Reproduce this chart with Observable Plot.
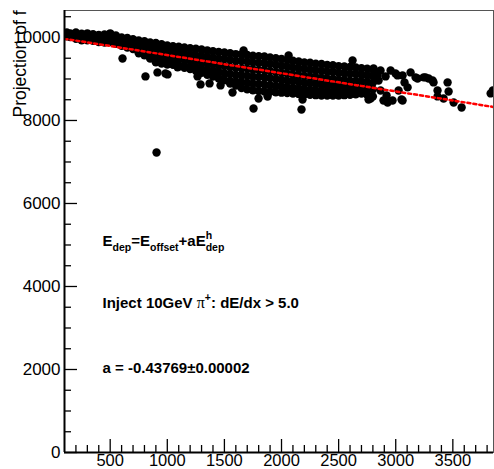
<!DOCTYPE html>
<html><head><meta charset="utf-8">
<script src="https://cdn.jsdelivr.net/npm/d3@7"></script>
<script src="https://cdn.jsdelivr.net/npm/@observablehq/plot@0.6"></script>
<style>body{margin:0;background:#fff} svg{display:block}</style>
</head><body><div id="chart"></div>
<script>
// ---- axes ----
const xDomain = [100, 3856];
const yDomain = [0, 10650];
const xMajor = [500, 1000, 1500, 2000, 2500, 3000, 3500];
const yMajor = [0, 2000, 4000, 6000, 8000, 10000];
const xMinor = d3.range(200, 3856, 100).filter(v => v % 500 !== 0);
const yMinor = d3.range(500, 10650, 500).filter(v => v % 2000 !== 0);
const yTitle = "Projection of f";

// ---- dense band of points: x column -> y values ----
const bandX = [120,150,200,250,300,350,400,450,500,550,600,650,700,750,800,850,900,950,1000,1050,1100,1150,1200,1250,1300,1350,1400,1450,1500,1550,1600,1650,1700,1750,1800,1850,1900,1950,2000,2050,2100,2150,2200,2250,2300,2350,2400,2450,2500,2550,2600,2650,2700,2750,2800];
const bandY = [
 [10120,10030],
 [10100,10010],
 [10120,10040,9970],
 [10090,9990,9930],
 [10100,10010,9930],
 [10080,9990,9920],
 [10060,9970,9890],
 [10070,9960,9880],
 [10100,10000,9890],
 [10050,9950,9850],
 [10000,9900,9800],
 [9990,9880,9760],
 [9960,9840,9720],
 [9930,9800,9680,9620],
 [9910,9780,9650,9570],
 [9880,9760,9620,9490],
 [9870,9730,9590,9450,9400],
 [9840,9700,9560,9420,9370],
 [9810,9670,9530,9390,9350],
 [9790,9650,9510,9370,9340],
 [9780,9630,9480,9330,9300],
 [9760,9610,9460,9310,9270],
 [9740,9590,9440,9290,9240],
 [9730,9570,9420,9270,9200],
 [9710,9560,9400,9250,9150],
 [9690,9530,9380,9220,9100],
 [9670,9510,9350,9190,9060],
 [9650,9490,9330,9170,9010],
 [9640,9480,9310,9140,8970],
 [9620,9460,9290,9120,8950,8890],
 [9600,9440,9270,9100,8940,8840],
 [9590,9430,9260,9090,8920,8780],
 [9580,9420,9250,9080,8910,8750],
 [9560,9400,9230,9060,8890,8730],
 [9550,9390,9220,9050,8880,8710],
 [9540,9380,9210,9040,8870,8700],
 [9520,9360,9190,9020,8850,8690],
 [9500,9340,9170,9000,8830,8680],
 [9480,9320,9150,8980,8820,8670],
 [9460,9300,9130,8960,8800,8660],
 [9440,9280,9110,8950,8790,8650],
 [9420,9260,9090,8930,8770,8640],
 [9400,9240,9070,8910,8760,8630],
 [9390,9230,9060,8900,8740,8620],
 [9370,9210,9040,8880,8730,8610],
 [9360,9200,9030,8870,8720,8600],
 [9340,9180,9010,8850,8700,8600],
 [9330,9170,9000,8840,8690,8600],
 [9310,9150,8980,8820,8680,8600],
 [9300,9140,8970,8810,8670,8610],
 [9290,9130,8960,8800,8660,8620],
 [9280,9120,8950,8790,8660,8630],
 [9260,9100,8940,8780,8650],
 [9250,9090,8930,8770,8620],
 [9230,9070,8910,8750,8580]
];
// ---- isolated / sparse points ----
const outX = [608,809,906,914,984,1002,1090,1265,1291,1370,1466,1571,1668,1755,1799,1878,2062,2184,2175,2622,2762,2780,2806,2832,2841,2850,2867,2867,2893,2911,2920,2929,2955,2972,2998,3016,3025,3051,3060,3060,3077,3104,3130,3174,3191,3244,3261,3288,3323,3331,3366,3366,3419,3454,3463,3507,3577,3831,3850];
const outY = [9495,9062,7230,9158,9134,9110,9280,9062,8869,8893,8845,8676,9688,8290,8531,8579,9568,8507,8266,9447,8507,8531,9254,9158,9086,8965,9206,8724,8483,9062,8603,8435,9206,8483,9134,9086,8724,8507,9086,8483,8917,8797,9158,9038,9013,9038,9038,9013,8965,8917,8724,8580,8531,8917,8700,8435,8314,8652,8724];

// ---- fit ----
const fitOffset = 10013;
const fitSlope = -0.43769;

// ---- annotations ----
const annoX = 433;
const annoY = [4981, 3478, 1911];
const annoSegs = [
  [["E",""],["dep","sub"],["=E",""],["offset","sub"],["+aE",""],["h","sup"],["dep","sub"]],
  [["Inject 10GeV ",""],["\u03c0","pi"],["+","sup"],[": dE/dx > 5.0",""]],
  [["a = -0.43769\u00b10.00002",""]]
];
const annoPlain = annoSegs.map(s => s.map(d => d[0]).join(""));

// ---- build ----
const points = [];
bandX.forEach((x, i) => bandY[i].forEach(y => points.push({x, y})));
outX.forEach((x, i) => points.push({x, y: outY[i]}));
const fitPts = xDomain.map(x => ({x, y: fitOffset + fitSlope * x}));
const annos = annoPlain.map((t, i) => ({x: annoX, y: annoY[i], t}));

const W = 494, H = 469, ML = 64, MR = 1, MT = 10, MB = 17;
const PW = W - ML - MR, PH = H - MT - MB;
const fmt = d3.format("d");

const chart = Plot.plot({
  width: W, height: H,
  marginLeft: ML, marginRight: MR, marginTop: MT, marginBottom: MB,
  x: {domain: xDomain},
  y: {domain: yDomain},
  style: {fontFamily: "'Liberation Sans', Arial, sans-serif", fontSize: "17px", background: "#fff", color: "#000"},
  marks: [
    Plot.frame({stroke: "#555", strokeWidth: 1}),
    Plot.dot(points, {x: "x", y: "y", r: 4.2, fill: "#000", stroke: "none", clip: true}),
    Plot.line(fitPts, {x: "x", y: "y", stroke: "#ff0000", strokeWidth: 2.5, strokeDasharray: "3,3", clip: true}),
    Plot.ruleX(xMinor, {stroke: "#000", strokeWidth: 1.3, insetTop: PH - 7}),
    Plot.ruleX(xMajor, {stroke: "#000", strokeWidth: 1.3, insetTop: PH - 13}),
    Plot.ruleY(yMinor, {stroke: "#000", strokeWidth: 1.3, insetRight: PW - 7}),
    Plot.ruleY(yMajor, {stroke: "#000", strokeWidth: 1.3, insetRight: PW - 13}),
    Plot.ruleX([xDomain[0]], {stroke: "#000", strokeWidth: 2}),
    Plot.ruleY([yDomain[0]], {stroke: "#000", strokeWidth: 2}),
    Plot.axisX(xMajor, {tickSize: 0, tickPadding: 2, label: null, tickFormat: fmt, fontSize: 16.5}),
    Plot.axisY(yMajor, {tickSize: 0, tickPadding: 4, label: null, tickFormat: fmt, fontSize: 17}),
    Plot.text([yTitle], {frameAnchor: "top-left", rotate: -90, textAnchor: "end", lineAnchor: "bottom", dx: -39, fontSize: 17.5}),
    Plot.text(annos, {x: "x", y: "y", text: "t", textAnchor: "start", lineAnchor: "bottom", fontSize: 15, fontWeight: "bold", fill: "#000"})
  ]
});
document.getElementById("chart").appendChild(chart);

// rich text (sub/superscripts)
const texts = Array.from(chart.querySelectorAll("text"));
annoSegs.forEach((segs, i) => {
  const el = texts.find(t => t.textContent === annoPlain[i]);
  if (!el) return;
  const t = d3.select(el);
  t.text(null);
  let off = 0, lastSup = null;
  segs.forEach(([s, kind]) => {
    let target = 0;
    const ts = t.append("tspan").text(s);
    if (kind === "sub") { target = 5.4; ts.attr("font-size", 10.5); }
    else if (kind === "sup") { target = -7; ts.attr("font-size", 10.5); }
    else if (kind === "pi") { ts.attr("font-family", "'Liberation Serif', 'DejaVu Serif', serif").attr("font-weight", "normal").attr("font-size", 16); }
    ts.attr("dy", target - off);
    off = target;
    if (kind === "sub" && lastSup) ts.attr("dx", -lastSup.node().getComputedTextLength());
    lastSup = kind === "sup" ? ts : null;
  });
});
</script>
</body></html>
